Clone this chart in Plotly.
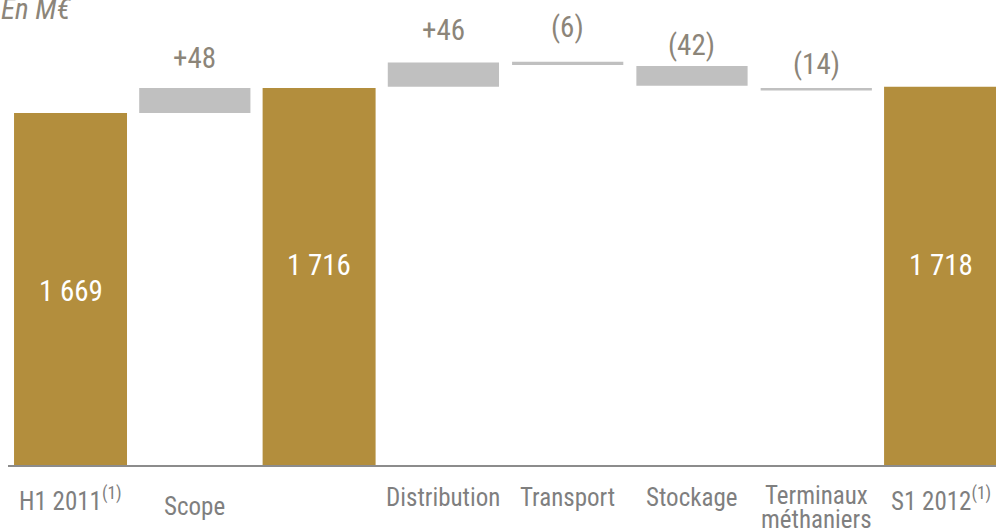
import plotly.graph_objects as go

# ---- data (values in M€) ----
categories = ["H1 2011<sup>(1)</sup>", "Scope", "", "Distribution", "Transport",
              "Stockage", "Terminaux<br>méthaniers", "S1 2012<sup>(1)</sup>"]
total_idx = [0, 2, 7]
total_vals = [1669, 1716, 1718]
total_text = ["1 669", "1 716", "1 718"]

delta_idx = [1, 3, 4, 5, 6]
delta_low = [1669, 1718, 1759, 1720, 1711]
delta_high = [1716, 1764, 1765, 1757, 1716]
delta_text = ["+48", "+46", "(6)", "(42)", "(14)"]

GOLD = "#B38E3D"
GREY_BAR = "#C0C0C0"
FONT = "Liberation Sans Narrow, Arial Narrow, Roboto Condensed, Liberation Sans, sans-serif"

fig = go.Figure()
fig.add_trace(go.Bar(x=total_idx, y=total_vals, marker=dict(color=GOLD, line=dict(width=0)),
                     width=0.909, hoverinfo="skip"))
fig.add_trace(go.Bar(x=delta_idx, y=[h - l for h, l in zip(delta_high, delta_low)],
                     base=delta_low, marker=dict(color=GREY_BAR, line=dict(width=0)),
                     width=0.895, hoverinfo="skip"))

y0 = 1007.2
ppu = 0.532  # px per unit
plot_h = 445
y1 = y0 + plot_h / ppu

ann = []
# value labels inside total bars
total_label_y = [1334, 1384, 1384]
for i, v, t, ly in zip(total_idx, total_vals, total_text, total_label_y):
    ann.append(dict(x=i, y=ly, xref="x", yref="y", text=t, showarrow=False,
                    font=dict(family=FONT, size=29, color="white"), yanchor="middle"))
# delta labels above
delta_label_off = [56, 60, 66, 40, 45]
for i, h, t, off in zip(delta_idx, delta_high, delta_text, delta_label_off):
    ann.append(dict(x=i, y=h + off, xref="x", yref="y", text=t, showarrow=False,
                    font=dict(family=FONT, size=29, color="#8C8579"), yanchor="middle"))
# category labels (multi-line labels split into lines with tight spacing)
cat_y = [-0.078, -0.094, -0.078, -0.074, -0.074, -0.074, -0.0675, -0.078]
line_step = 0.054
for i, c in enumerate(categories):
    if not c:
        continue
    for k, line in enumerate(c.split("<br>")):
        ann.append(dict(x=i, y=cat_y[i] - k * line_step, xref="x", yref="paper", text=line,
                        showarrow=False, yanchor="middle",
                        font=dict(family=FONT, size=25, color="#7F7F7F")))
# unit label
ann.append(dict(x=-0.009, y=1.025, xref="paper", yref="paper", text="<i>En M€</i>",
                showarrow=False, xanchor="left", yanchor="middle",
                font=dict(family=FONT, size=29, color="#8C8579")))

fig.update_layout(
    width=996, height=532,
    margin=dict(l=8, r=0, t=20, b=67),
    plot_bgcolor="white", paper_bgcolor="white",
    showlegend=False, barmode="overlay",
    annotations=ann,
    xaxis=dict(range=[-0.503, 7.446], showgrid=False, zeroline=False, showticklabels=False,
               ticks="", showline=True, linecolor="#8C8C8C", linewidth=2, fixedrange=True),
    yaxis=dict(range=[y0, y1], visible=False, showgrid=False, zeroline=False, fixedrange=True),
)

fig.write_html("out.html")
